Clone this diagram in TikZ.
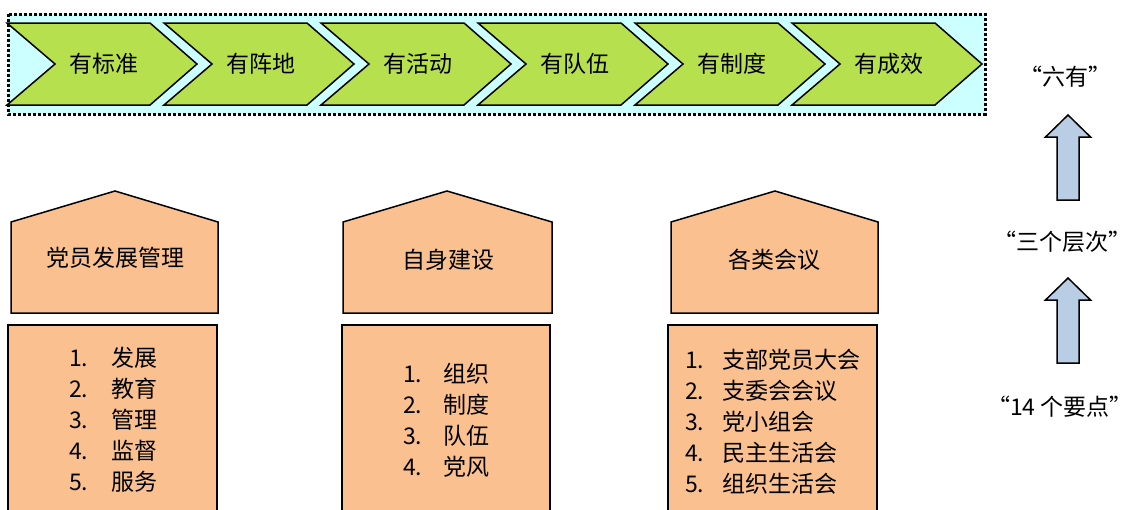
\documentclass[tikz,border=0pt]{standalone}
\usepackage{fontspec}
\setmainfont{Noto Sans CJK SC}
\usepackage{tikz}
\definecolor{chevgreen}{RGB}{183,224,79}
\definecolor{bandcyan}{RGB}{204,255,255}
\definecolor{housetan}{RGB}{250,192,144}
\definecolor{arrowblue}{RGB}{185,205,229}
\tikzset{
	txt/.style={font=\fontsize{23pt}{31pt}\selectfont, inner sep=0pt},
	chev/.style={draw, fill=chevgreen, line width=1.5pt, line join=miter},
	house/.style={draw, fill=housetan, line width=1.5pt},
	uparrow/.style={draw, fill=arrowblue, line width=1.5pt}
}
\newcommand{\lno}[2]{\makebox[#1][l]{#2}}

\begin{document}
\begin{tikzpicture}[x=1pt,y=1pt,yscale=-1]
			\useasboundingbox (0,0) rectangle (1131,509);
			\clip (0,0) rectangle (1131,509);
			% band of six chevrons
			\draw[fill=bandcyan, line width=3pt, dash pattern=on 3pt off 2pt] (8,14) rectangle (985,114);
			\foreach \lbl [count=\i from 0] in {有标准,有阵地,有活动,有队伍,有制度,有成效} {
				\pgfmathsetmacro{\cx}{7+157*\i}
				\draw[chev] (\cx,23) -- ++(143,0) -- ++(47,41) -- ++(-47,41) -- ++(-143,0) -- ++(48,-41) -- cycle;
				\node[txt] (c\i) at (\cx+97,64) {\lbl};
			}
			% houses
			\draw[house] (11,313) -- (11,222) -- (115,191) -- (218,222) -- (218,313) -- cycle;
			\node[txt] (h1) at (115,258) {党员发展管理};
			\draw[house] (8,325) rectangle (217,520);
			\node[txt, align=left, anchor=west] (l1) at (69,420) {\lno{42pt}{1.}发展\\\lno{42pt}{2.}教育\\\lno{42pt}{3.}管理\\\lno{42pt}{4.}监督\\\lno{42pt}{5.}服务};
			\draw[house] (343,313) -- (343,222) -- (447,191) -- (552,222) -- (552,313) -- cycle;
			\node[txt] (h2) at (448,260) {自身建设};
			\draw[house] (342,325) rectangle (550,520);
			\node[txt, align=left, anchor=west] (l2) at (403,420) {\lno{40pt}{1.}组织\\\lno{40pt}{2.}制度\\\lno{40pt}{3.}队伍\\\lno{40pt}{4.}党风};
			\draw[house] (671,313) -- (671,222) -- (775,191) -- (878,222) -- (878,313) -- cycle;
			\node[txt] (h3) at (774,260) {各类会议};
			\draw[house] (668,325) rectangle (877,520);
			\node[txt, align=left, anchor=west] (l3) at (685,422) {\lno{37pt}{1.}支部党员大会\\\lno{37pt}{2.}支委会会议\\\lno{37pt}{3.}党小组会\\\lno{37pt}{4.}民主生活会\\\lno{37pt}{5.}组织生活会};
			% levels on the right
			\node[txt] (t1) at (1065,77) {“六有”};
			\node[txt] (t2) at (1062,242) {“三个层次”};
			\node[txt] (t3) at (1060,407) {“14 个要点”};
			\draw[uparrow] (1057,200) -- (1057,137) -- (1045.5,137) -- (1068,115) -- (1090.5,137) -- (1079,137) -- (1079,200) -- cycle;
			\draw[uparrow] (1057,363) -- (1057,300) -- (1045.5,300) -- (1068,278) -- (1090.5,300) -- (1079,300) -- (1079,363) -- cycle;
		\end{tikzpicture}
\end{document}
